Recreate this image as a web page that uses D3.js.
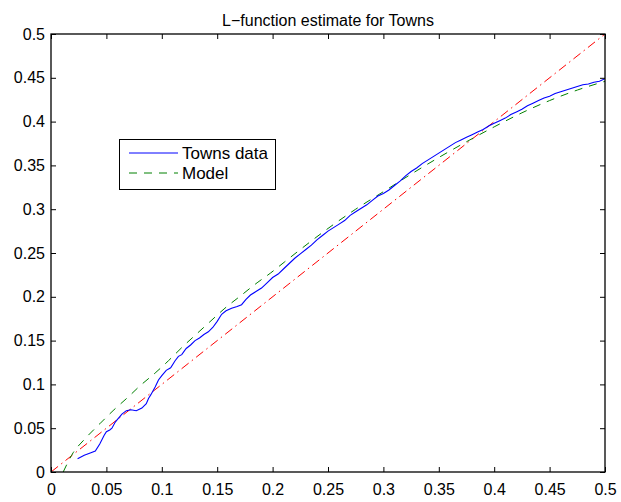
<!DOCTYPE html>
<html>
<head>
<meta charset="utf-8">
<script src="https://cdn.jsdelivr.net/npm/d3@7"></script>
<style>
  body { margin: 0; background: #fff; }
  svg { display: block; }
  text { font-family: "Liberation Sans", Arial, Helvetica, sans-serif; fill: #000; }
</style>
</head>
<body>
<svg id="chart" width="621" height="502"></svg>
<script>
const title = "L\u2212function estimate for Towns";
const tickValues = [0, 0.05, 0.1, 0.15, 0.2, 0.25, 0.3, 0.35, 0.4, 0.45, 0.5];
const tickLabels = ["0", "0.05", "0.1", "0.15", "0.2", "0.25", "0.3", "0.35", "0.4", "0.45", "0.5"];
const seriesNames = ["Towns data", "Model"];

// Towns data (empirical L-function estimate)
const townsX = [0.024,0.030,0.036,0.040,0.044,0.048,0.050,0.053,0.055,0.058,0.060,0.064,0.068,0.072,0.077,0.082,0.086,0.088,0.090,0.094,0.097,0.100,0.104,0.108,0.112,0.115,0.118,0.122,0.126,0.130,0.134,0.138,0.142,0.146,0.150,0.154,0.158,0.163,0.168,0.172,0.176,0.180,0.185,0.190,0.195,0.200,0.205,0.210,0.215,0.220,0.225,0.230,0.235,0.240,0.245,0.250,0.255,0.260,0.265,0.270,0.275,0.280,0.285,0.290,0.295,0.300,0.305,0.310,0.315,0.320,0.325,0.330,0.335,0.340,0.345,0.350,0.355,0.360,0.365,0.370,0.375,0.380,0.385,0.390,0.395,0.400,0.405,0.410,0.415,0.420,0.425,0.430,0.435,0.440,0.445,0.450,0.455,0.460,0.465,0.470,0.475,0.480,0.485,0.490,0.495,0.500];
const townsY = [0.015,0.019,0.022,0.024,0.032,0.042,0.046,0.048,0.050,0.057,0.060,0.066,0.070,0.071,0.070,0.073,0.078,0.084,0.088,0.097,0.105,0.110,0.116,0.119,0.127,0.132,0.134,0.141,0.145,0.150,0.153,0.157,0.160,0.165,0.172,0.180,0.184,0.187,0.189,0.191,0.197,0.202,0.206,0.210,0.216,0.222,0.226,0.232,0.238,0.244,0.249,0.254,0.259,0.265,0.270,0.275,0.279,0.283,0.287,0.293,0.297,0.301,0.305,0.310,0.315,0.318,0.322,0.327,0.332,0.338,0.343,0.347,0.352,0.356,0.360,0.364,0.368,0.372,0.376,0.379,0.382,0.385,0.388,0.391,0.395,0.398,0.401,0.404,0.408,0.411,0.414,0.418,0.421,0.424,0.427,0.429,0.432,0.434,0.436,0.438,0.440,0.442,0.443,0.445,0.446,0.449];

// Model L-function
const modelX = [0.011,0.020,0.030,0.044,0.056,0.070,0.080,0.094,0.106,0.118,0.130,0.143,0.157,0.171,0.186,0.198,0.211,0.222,0.250,0.275,0.300,0.325,0.350,0.375,0.400,0.425,0.450,0.475,0.500];
const modelY = [0.000,0.022,0.037,0.055,0.070,0.086,0.098,0.113,0.127,0.142,0.156,0.171,0.187,0.201,0.216,0.227,0.240,0.251,0.278,0.300,0.320,0.340,0.359,0.377,0.394,0.410,0.424,0.436,0.446];

// Reference line L(r) = r
const refX = [0, 0.5];
const refY = [0, 0.5];

const svg = d3.select("#chart");
const mLeft = 51, mRight = 605, mTop = 34, mBottom = 472;

const x = d3.scaleLinear().domain([0, 0.5]).range([mLeft, mRight]);
const y = d3.scaleLinear().domain([0, 0.5]).range([mBottom, mTop]);

const fmt = d => tickLabels[tickValues.indexOf(d)];

const line = d3.line().x(d => x(d[0])).y(d => y(d[1]));
const zip = (a, b) => a.map((v, i) => [v, b[i]]);

svg.append("defs").append("clipPath").attr("id", "plotclip")
  .append("rect").attr("x", mLeft).attr("y", mTop).attr("width", mRight - mLeft).attr("height", mBottom - mTop);

const g = svg.append("g").attr("clip-path", "url(#plotclip)");

g.append("path").datum(zip(refX, refY)).attr("d", line)
  .attr("fill", "none").attr("stroke", "#ff0000").attr("stroke-width", 1)
  .attr("stroke-dasharray", "9,4,1.5,4");

g.append("path").datum(zip(modelX, modelY))
  .attr("d", d3.line().x(d => x(d[0])).y(d => y(d[1])).curve(d3.curveMonotoneX))
  .attr("fill", "none").attr("stroke", "#008000").attr("stroke-width", 1)
  .attr("stroke-dasharray", "8,7");

g.append("path").datum(zip(townsX, townsY)).attr("d", line)
  .attr("fill", "none").attr("stroke", "#0000ff").attr("stroke-width", 1.1);

// Axes (ticks inward, MATLAB style)
const axB = svg.append("g").attr("transform", `translate(0,${mBottom})`)
  .call(d3.axisBottom(x).tickValues(tickValues).tickFormat(fmt).tickSizeInner(-5).tickSizeOuter(0).tickPadding(12));
const axL = svg.append("g").attr("transform", `translate(${mLeft},0)`)
  .call(d3.axisLeft(y).tickValues(tickValues).tickFormat(fmt).tickSizeInner(-5).tickSizeOuter(0).tickPadding(6));
const axT = svg.append("g").attr("transform", `translate(0,${mTop})`)
  .call(d3.axisTop(x).tickValues(tickValues).tickFormat("").tickSizeInner(-5).tickSizeOuter(0));
const axR = svg.append("g").attr("transform", `translate(${mRight},0)`)
  .call(d3.axisRight(y).tickValues(tickValues).tickFormat("").tickSizeInner(-5).tickSizeOuter(0));

[axB, axL, axT, axR].forEach(a => {
  a.select(".domain").remove();
  a.selectAll("line").attr("stroke", "#000");
  a.selectAll("text").attr("font-size", 16).attr("font-family", "Liberation Sans, Arial, sans-serif").attr("fill", "#000");
});

svg.append("rect").attr("x", mLeft).attr("y", mTop).attr("width", mRight - mLeft).attr("height", mBottom - mTop)
  .attr("fill", "none").attr("stroke", "#000").attr("stroke-width", 1.3);

// Title
svg.append("text").attr("x", (mLeft + mRight) / 2).attr("y", 26).attr("text-anchor", "middle")
  .attr("font-size", 16).text(title);

// Legend
const lg = svg.append("g");
lg.append("rect").attr("x", 119.5).attr("y", 139.5).attr("width", 156).attr("height", 50)
  .attr("fill", "#fff").attr("stroke", "#000").attr("stroke-width", 1);
const legendStyles = [
  { color: "#0000ff", dash: null },
  { color: "#008000", dash: "8,7" }
];
seriesNames.forEach((name, i) => {
  const cy = 153 + i * 20;
  lg.append("line").attr("x1", 129).attr("x2", 178).attr("y1", cy).attr("y2", cy)
    .attr("stroke", legendStyles[i].color).attr("stroke-width", 1)
    .attr("stroke-dasharray", legendStyles[i].dash);
  lg.append("text").attr("x", 182).attr("y", cy + 6).attr("font-size", 17).text(name);
});
</script>
</body>
</html>
